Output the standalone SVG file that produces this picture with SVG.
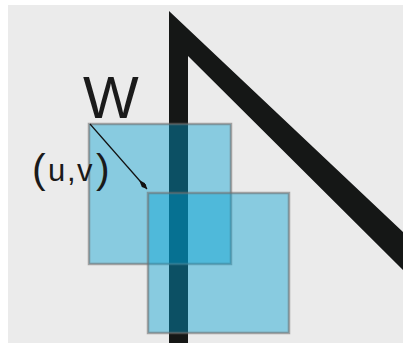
<svg xmlns="http://www.w3.org/2000/svg" width="403" height="343" viewBox="0 0 403 343">
  <style>
    .win { fill: #00a0d2; fill-opacity: 0.42; stroke: #707070; stroke-opacity: 0.6; stroke-width: 2.5; }
    .lbl { font-family: "Liberation Sans", Arial, sans-serif; fill: #1a1a1a; }
  </style>
  <defs>
    <marker id="ah" viewBox="0 0 12 5" refX="12" refY="2.5" markerWidth="12" markerHeight="5" markerUnits="userSpaceOnUse" orient="auto">
      <path d="M0,2.5 L7,0 L12,2.5 L7,5 Z" fill="#111"/>
    </marker>
  </defs>
  <rect id="background" x="8" y="5" width="395" height="338" fill="#ebebeb"/>
  <g id="edge">
    <polygon points="169,11 403,232 403,270 188,56 188,343 169,343" fill="#151716"/>
  </g>
  <g id="window1">
    <rect class="win" x="89" y="124" width="142" height="140"/>
  </g>
  <g id="window2">
    <rect class="win" x="148" y="193" width="141" height="140"/>
  </g>
  <g id="connectors">
    <line x1="90" y1="124" x2="147" y2="189" stroke="#111" stroke-width="1.2" marker-end="url(#ah)"/>
  </g>
  <g id="label-W">
    <text class="lbl" x="83" y="118" font-size="59">W</text>
  </g>
  <g id="label-uv">
    <text class="lbl"><tspan x="32" y="183" font-size="41">(</tspan><tspan x="48" y="181" font-size="31">u</tspan><tspan x="67" y="181" font-size="31">,</tspan><tspan x="77" y="181" font-size="31">v</tspan><tspan x="96" y="183" font-size="41">)</tspan></text>
  </g>
</svg>
